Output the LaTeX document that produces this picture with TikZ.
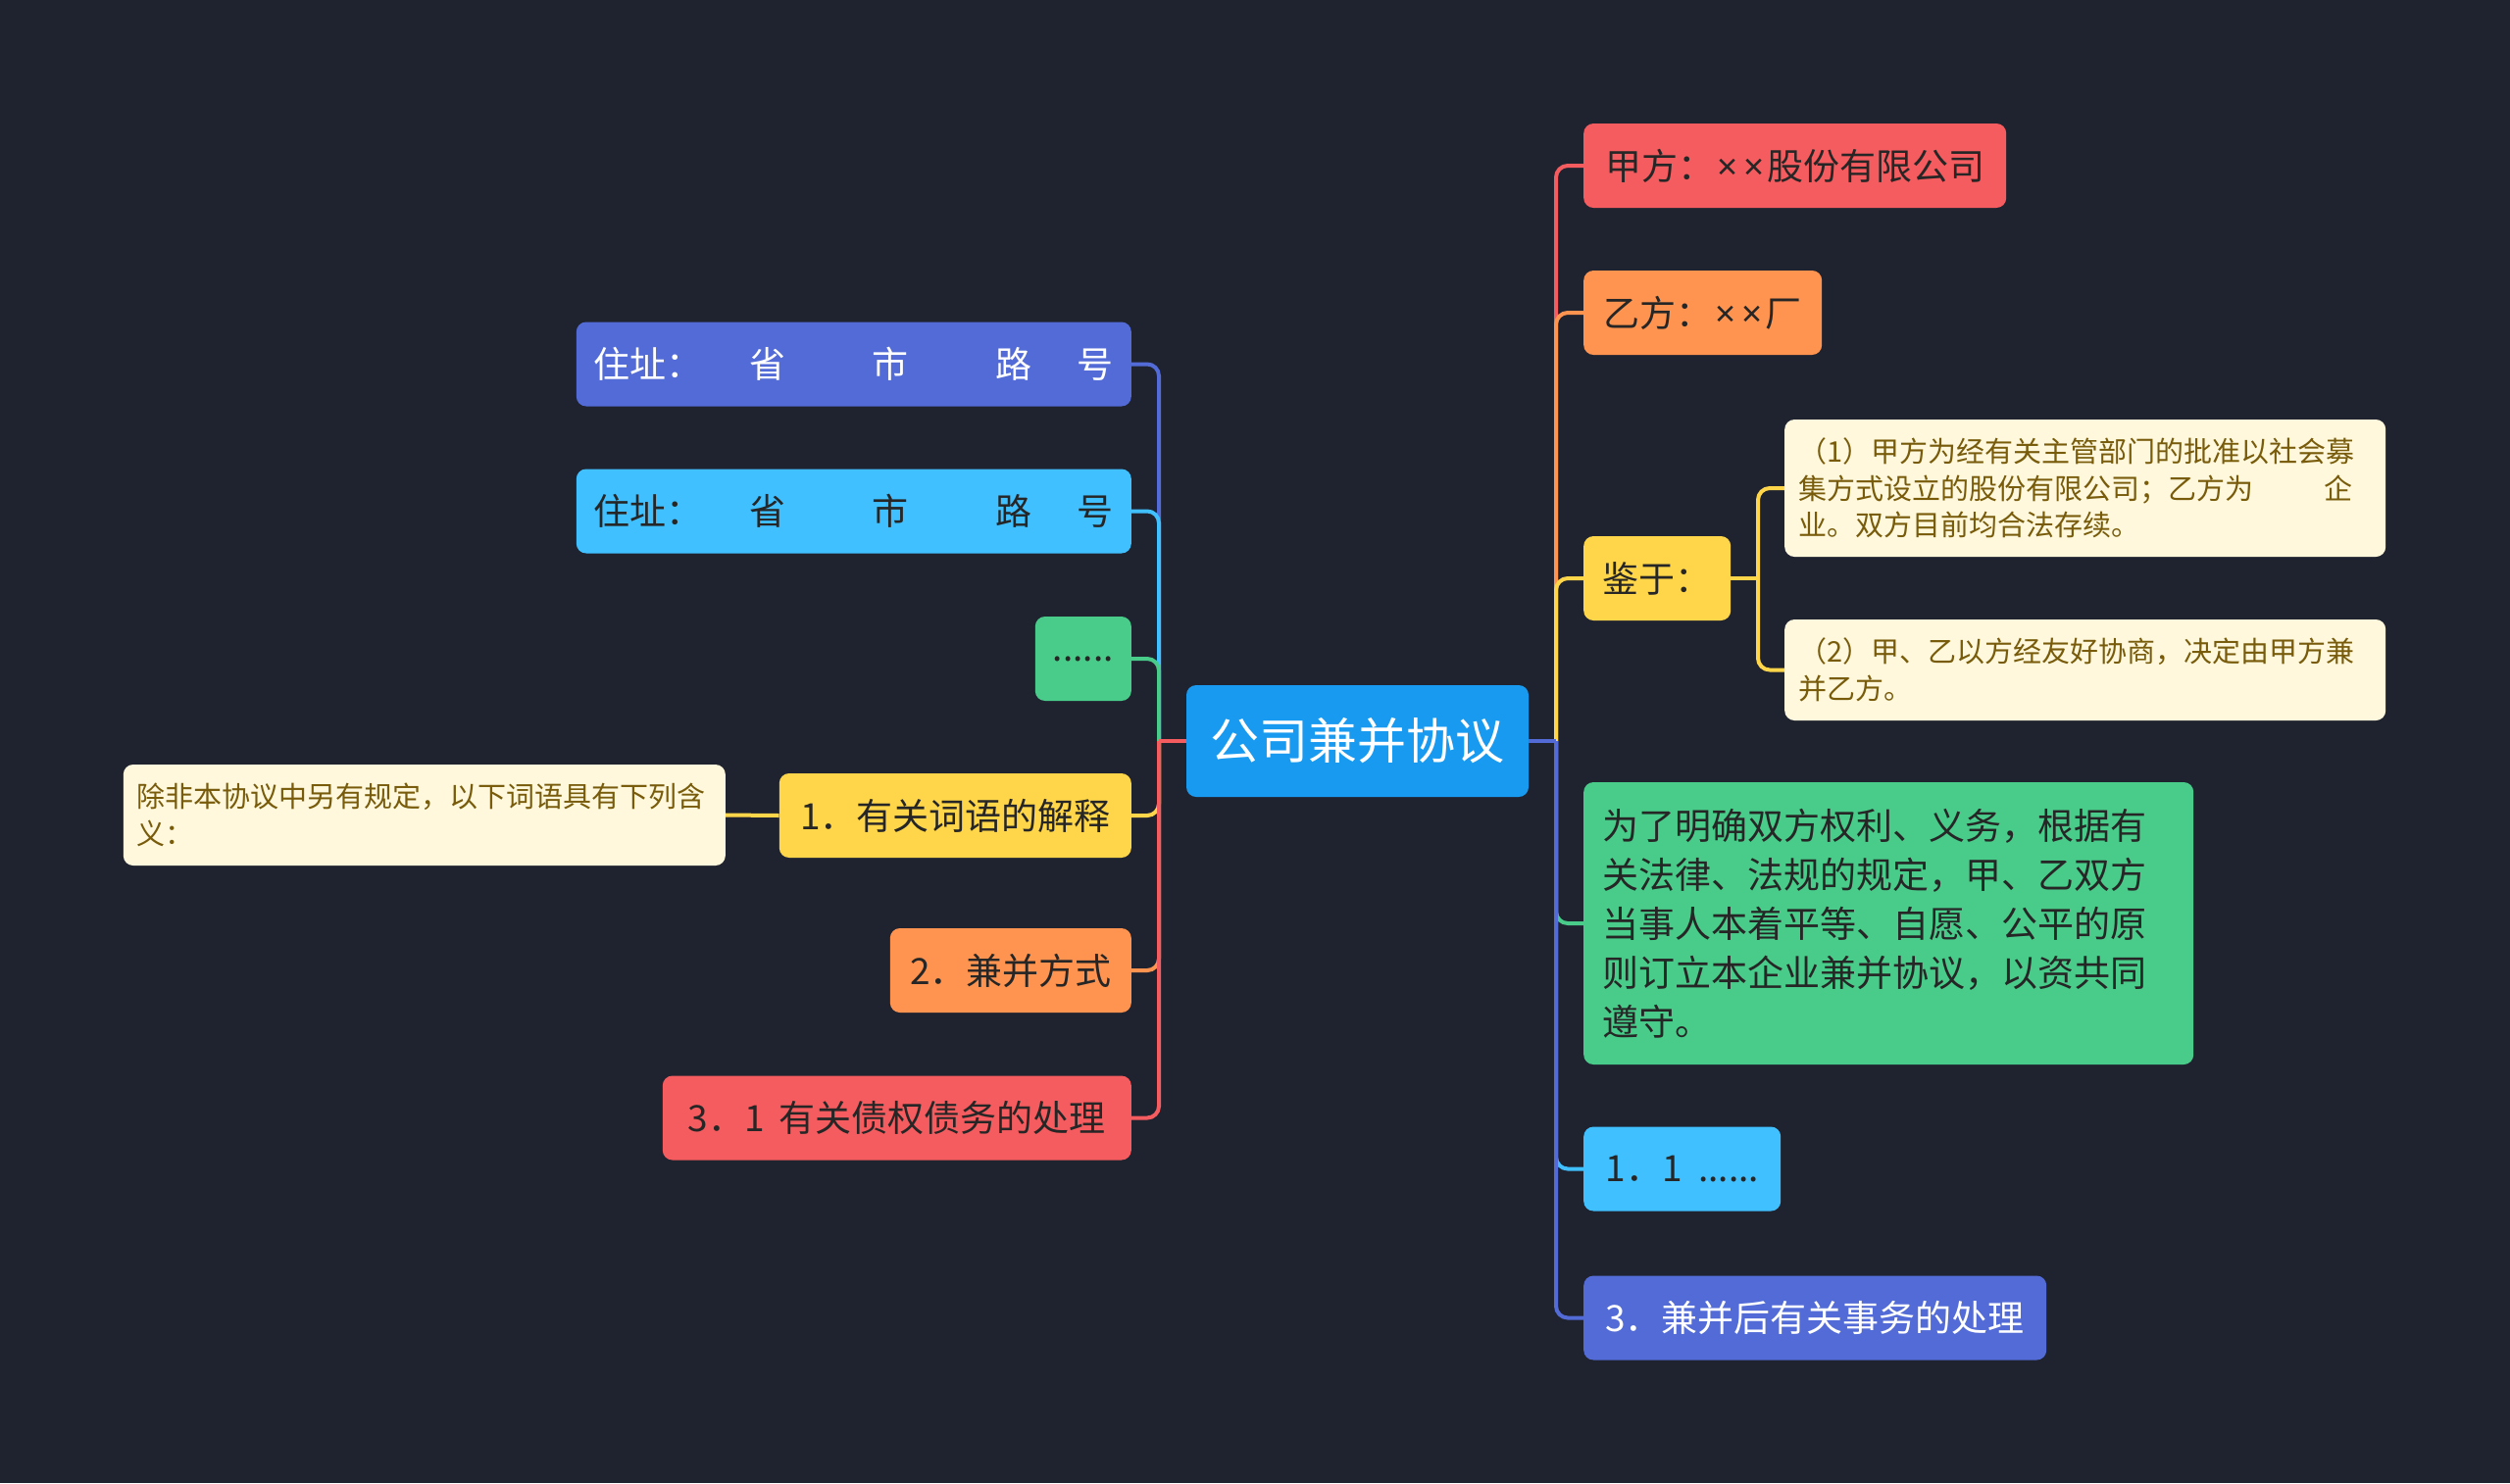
\documentclass[tikz,border=0pt]{standalone}
\usepackage{fontspec}
\newfontfamily\cjk{Noto Sans CJK SC}
\newfontfamily\latinsans{Noto Sans}
\newcommand{\xx}{{\latinsans\hspace{3pt}×\hspace{6pt}×\hspace{3pt}}}
\definecolor{bg}{RGB}{31,35,48}
\definecolor{cRoot}{RGB}{24,154,240}
\definecolor{cRed}{RGB}{245,92,95}
\definecolor{cOrange}{RGB}{255,148,80}
\definecolor{cYellow}{RGB}{255,214,73}
\definecolor{cCream}{RGB}{255,248,220}
\definecolor{cGreen}{RGB}{73,204,138}
\definecolor{cLBlue}{RGB}{64,192,255}
\definecolor{cBlue}{RGB}{82,107,214}
\definecolor{txtDark}{RGB}{38,38,38}
\definecolor{txtCream}{RGB}{120,92,12}
\begin{document}
\begin{tikzpicture}[x=1pt,y=-1pt,
  box/.style={rounded corners=10pt, inner sep=0pt, minimum height=86pt,
    font=\cjk\fontsize{37}{50}\selectfont, text=txtDark},
  rbox/.style={box, anchor=west},
  lbox/.style={box, anchor=east},
  creambox/.style={rounded corners=10pt, inner sep=0pt, fill=cCream, text=txtCream,
    font=\cjk\fontsize{29}{37.5}\selectfont, align=left},
  link/.style={line width=4pt, rounded corners=12pt}]
\useasboundingbox (0,0) rectangle (2560,1513);
\fill[bg] (0,0) rectangle (2560,1513);

% root
\node[box, fill=cRoot, text=white, minimum width=349pt, minimum height=114pt,
  font=\cjk\fontsize{50}{60}\selectfont] (root) at (1384.5,756) {公司兼并协议};

% right side
\node[rbox, fill=cRed, minimum width=431pt] (ja) at (1615,169) {甲方：\xx 股份有限公司};
\node[rbox, fill=cOrange, minimum width=243pt] (yi) at (1615,319) {乙方：\xx 厂};
\node[rbox, fill=cYellow, minimum width=150pt] (jian) at (1615,590) {鉴于：};
\node[creambox, anchor=west, minimum width=613pt, minimum height=140pt, text width=585pt] (c1) at (1820,498)
  {（1）甲方为经有关主管部门的批准以社会募\\集方式设立的股份有限公司；乙方为\hspace{2.5em}企\\业。双方目前均合法存续。};
\node[creambox, anchor=west, minimum width=613pt, minimum height=103pt, text width=585pt] (c2) at (1820,683.5)
  {（2）甲、乙以方经友好协商，决定由甲方兼\\并乙方。};
\node[rbox, fill=cGreen, minimum width=622pt, minimum height=288pt, text width=584pt, align=left] (gr) at (1615,942)
  {为了明确双方权利、义务，根据有\\关法律、法规的规定，甲、乙双方\\当事人本着平等、自愿、公平的原\\则订立本企业兼并协议，以资共同\\遵守。};
\node[rbox, fill=cLBlue, minimum width=201pt] (r11) at (1615,1192.5) {1．1\hspace{0.45em}......};
\node[rbox, fill=cBlue, text=white, minimum width=472pt] (r3) at (1615,1344.5) {3．兼并后有关事务的处理};

% left side
\node[lbox, fill=cBlue, text=white, minimum width=566pt] (a1) at (1154,371.5)
  {住址：\hspace{48pt}省\hspace{88pt}市\hspace{89pt}路\hspace{46pt}号};
\node[lbox, fill=cLBlue, minimum width=566pt] (a2) at (1154,521.5)
  {住址：\hspace{48pt}省\hspace{88pt}市\hspace{89pt}路\hspace{46pt}号};
\node[lbox, fill=cGreen, minimum width=98pt] (dots) at (1154,672) {......};
\node[lbox, fill=cYellow, minimum width=359pt] (l1) at (1154,832) {1．有关词语的解释};
\node[creambox, anchor=east, minimum width=614pt, minimum height=103pt, text width=586pt] (cr) at (740,831.5)
  {除非本协议中另有规定，以下词语具有下列含\\义：};
\node[lbox, fill=cOrange, minimum width=246pt] (l2) at (1154,990) {2．兼并方式};
\node[lbox, fill=cRed, minimum width=478pt] (l3) at (1154,1140.5) {3．1\hspace{0.4em}有关债权债务的处理};

% trunk points
\coordinate (rtr) at (1587,756);
\coordinate (ltr) at (1182,756);
\coordinate (jtr) at (1793,590);

% right connectors (top to bottom so later ones cover the trunk)
\foreach \n/\c in {ja/cRed, yi/cOrange, jian/cYellow, gr/cGreen, r11/cLBlue, r3/cBlue}{
  \draw[link, \c] (root.east) -- (rtr);
  \draw[link, \c] (rtr) |- (\n.west);
}
% left connectors
\foreach \n/\c in {a1/cBlue, a2/cLBlue, dots/cGreen, l1/cYellow, l2/cOrange, l3/cRed}{
  \draw[link, \c] (root.west) -- (ltr);
  \draw[link, \c] (ltr) |- (\n.east);
}
% sub connectors
\draw[link, cYellow] (jian.east) -- (jtr);
\draw[link, cYellow] (jtr) |- (c1.west);
\draw[link, cYellow] (jtr) |- (c2.west);
\draw[link, cYellow] (l1.west) -- (cr.east);
\end{tikzpicture}
\end{document}
